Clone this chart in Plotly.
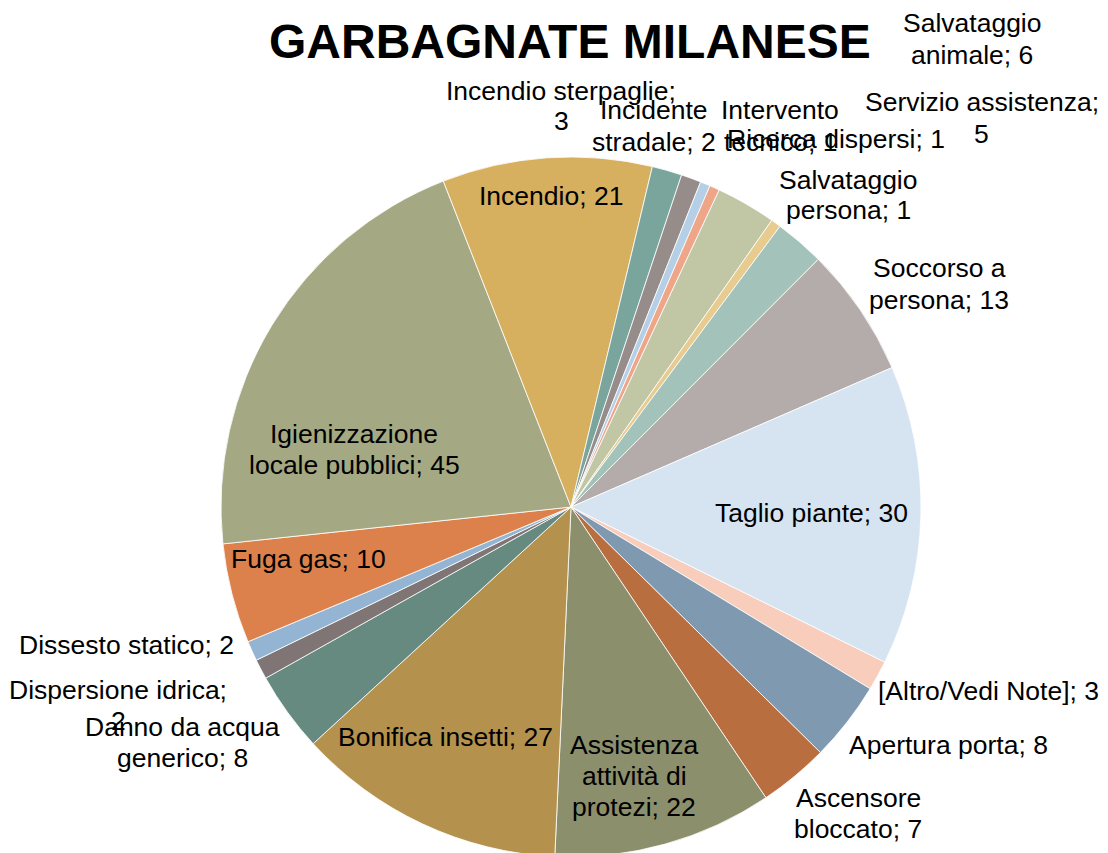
import plotly.graph_objects as go

# ---- data ----
categories = [
    "[Altro/Vedi Note]", "Apertura porta", "Ascensore bloccato",
    "Assistenza attività di protezi", "Bonifica insetti", "Danno da acqua generico",
    "Dispersione idrica", "Dissesto statico", "Fuga gas",
    "Igienizzazione locale pubblici", "Incendio", "Incendio sterpaglie",
    "Incidente stradale", "Intervento tecnico", "Ricerca dispersi",
    "Salvataggio animale", "Salvataggio persona", "Servizio assistenza",
    "Soccorso a persona", "Taglio piante",
]
values = [3, 8, 7, 22, 27, 8, 2, 2, 10, 45, 21, 3, 2, 1, 1, 6, 1, 5, 13, 30]
colors = [
    "#F8CDBB", "#7F9AB0", "#B96E40", "#8C8F6C", "#B4924E", "#668A80",
    "#7F7575", "#93B4D2", "#DD814C", "#A4A983", "#D6AF5F", "#7AA59C",
    "#968D8B", "#B5CFE6", "#EFA587", "#C1C6A5", "#E8CB8E", "#A2C2BA",
    "#B4ACAB", "#D6E4F2",
]
title_text = "GARBAGNATE MILANESE"

# ---- label layout (screen-pixel centre of each label block, words per line) ----
label_layout = {
    "[Altro/Vedi Note]": (988, 691, None),
    "Apertura porta": (948, 745, None),
    "Ascensore bloccato": (858, 813, [1, 2]),
    "Assistenza attività di protezi": (634, 776, [1, 2, 2]),
    "Bonifica insetti": (445, 737, None),
    "Danno da acqua generico": (182, 742, [3, 2]),
    "Dispersione idrica": (118, 705, [2, 1]),
    "Dissesto statico": (126, 645, None),
    "Fuga gas": (308, 559, None),
    "Igienizzazione locale pubblici": (354, 449, [1, 3]),
    "Incendio": (551, 196, None),
    "Incendio sterpaglie": (561, 106, [2, 1]),
    "Incidente stradale": (654, 126, [1, 2]),
    "Intervento tecnico": (780, 126, [1, 2]),
    "Ricerca dispersi": (836, 139, None),
    "Salvataggio animale": (972, 39, [1, 2]),
    "Salvataggio persona": (848, 195, [1, 2]),
    "Servizio assistenza": (982, 118, [2, 1]),
    "Soccorso a persona": (939, 284, [2, 2]),
    "Taglio piante": (811, 513, None),
}

W, H = 1108, 853
OFF = 8  # default page body margin
FONT = "Liberation Sans, Arial, sans-serif"
LABEL_SIZE = 26.5
LINE_STEP = 31


def px_to_paper(sx, sy):
    return (sx - OFF) / W, 1 - (sy - OFF) / H


cx, cy, r = 571 - OFF, 507 - OFF, 350
fig = go.Figure(go.Pie(
    labels=categories,
    values=values,
    sort=False,
    direction="clockwise",
    rotation=116.3,
    marker=dict(colors=colors, line=dict(color="white", width=0.8)),
    textinfo="none",
    hoverinfo="label+value",
    domain=dict(x=[(cx - r) / W, (cx + r) / W],
                y=[1 - (cy + r) / H, 1 - (cy - r) / H]),
    showlegend=False,
))

annotations = []
for cat, val in zip(categories, values):
    sx, sy, split = label_layout[cat]
    words = f"{cat}; {val}".split(" ")
    if split is None:
        lines = [" ".join(words)]
    else:
        lines, k = [], 0
        for n in split:
            lines.append(" ".join(words[k:k + n]))
            k += n
    nl = len(lines)
    for i, line in enumerate(lines):
        ly = sy + (i - (nl - 1) / 2) * LINE_STEP
        x, y = px_to_paper(sx, ly)
        annotations.append(dict(
            text=line, x=x, y=y, xref="paper", yref="paper",
            xanchor="center", yanchor="middle", showarrow=False,
            font=dict(family=FONT, size=LABEL_SIZE, color="black"),
        ))

tx, ty = px_to_paper(570, 42)
annotations.append(dict(
    text=f"<b>{title_text}</b>", x=tx, y=ty, xref="paper", yref="paper",
    xanchor="center", yanchor="middle", showarrow=False,
    font=dict(family=FONT, size=48, color="black"),
))

fig.update_layout(
    width=W, height=H,
    margin=dict(l=0, r=0, t=0, b=0),
    paper_bgcolor="white", plot_bgcolor="white",
    annotations=annotations,
)

fig.write_html("out.html")
